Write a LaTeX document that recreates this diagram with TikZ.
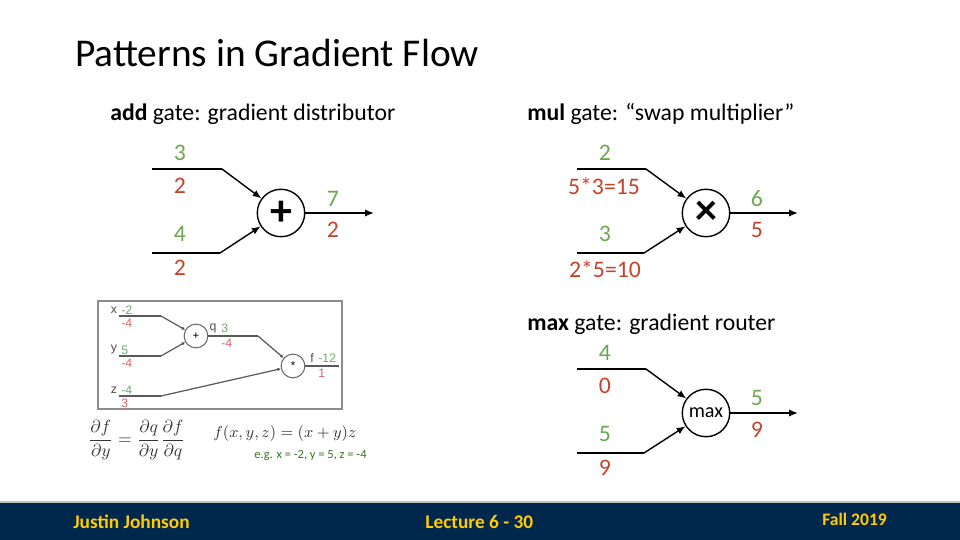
\documentclass[tikz,border=0pt]{standalone}
\usepackage[no-math]{fontspec}
\setmainfont{Carlito}
\newfontfamily\insetfont{Liberation Sans}
\usetikzlibrary{arrows.meta}

\definecolor{fwdgreen}{RGB}{106,168,79}
\definecolor{bwdred}{RGB}{197,67,42}
\definecolor{ingreen}{RGB}{110,170,110}
\definecolor{inred}{RGB}{220,100,100}
\definecolor{eggreen}{RGB}{56,118,29}
\definecolor{footblue}{RGB}{0,39,76}
\definecolor{footmaize}{RGB}{255,203,5}

\tikzset{
  gate/.style={draw, circle, line width=0.8pt, minimum size=27pt, inner sep=0pt},
  fwd/.style={text=fwdgreen, inner sep=0pt, font=\fontsize{13.5}{15}\selectfont},
  bwd/.style={text=bwdred, inner sep=0pt, font=\fontsize{13.5}{15}\selectfont},
  wire/.style={line width=0.8pt},
  flow/.style={wire, -{Latex[length=5pt,width=4pt]}},
  heading/.style={anchor=base west, inner sep=0pt, font=\fontsize{13.5}{15}\selectfont},
  igate/.style={draw=black!60, circle, line width=0.6pt, minimum size=13.5pt, inner sep=0pt, font=\insetfont\fontsize{6.5}{7}\selectfont},
  iwire/.style={draw=black!65, line width=0.7pt},
  iflow/.style={iwire, -{Latex[length=2pt,width=2pt]}},
  itext/.style={inner sep=0pt, font=\insetfont\fontsize{7}{8}\selectfont},
  foot/.style={anchor=west, inner sep=0pt, text=footmaize, font=\fontsize{11}{12}\selectfont\bfseries}
}

\begin{document}
\begin{tikzpicture}[x=0.02cm, y=-0.02cm]
\useasboundingbox (0,0) rectangle (960,540);

% Title
\node[anchor=base west, inner sep=0pt, font=\fontsize{22.4}{26}\selectfont] (title) at (75,67) {Patterns in Gradient Flow};

% Headings
\node[heading] (addhead) at (110,121) {\textbf{add} gate: gradient distributor};
\node[heading] (mulhead) at (527,121) {\textbf{mul} gate: “swap multiplier”};
\node[heading] (maxhead) at (527,331) {\textbf{max} gate: gradient router};

% add gate
\node[gate, font=\fontsize{25}{25}\selectfont\bfseries] (add) at (281,213) {+};
\coordinate (addin1) at (152,169);
\coordinate (addbend1) at (222,169);
\coordinate (addin2) at (152,253);
\coordinate (addbend2) at (220,253);
\coordinate (addout) at (374,213);
\draw[wire] (addin1) -- (addbend1);
\draw[flow] (addbend1) -- (add);
\draw[wire] (addin2) -- (addbend2);
\draw[flow] (addbend2) -- (add);
\draw[flow] (add) -- (addout);

\node[fwd] (addf1) at (180,153) {3};
\node[bwd] (addb1) at (180,186) {2};
\node[fwd] (addf2) at (180,234) {4};
\node[bwd] (addb2) at (180,268) {2};
\node[fwd] (addfo) at (333,199) {7};
\node[bwd] (addbo) at (333,230) {2};

% mul gate
\node[gate, font=\fontsize{25}{25}\selectfont\bfseries] (mul) at (706,213) {×};
\coordinate (mulin1) at (577,169);
\coordinate (mulbend1) at (646,169);
\coordinate (mulin2) at (577,253);
\coordinate (mulbend2) at (644,253);
\coordinate (mulout) at (798,213);
\draw[wire] (mulin1) -- (mulbend1);
\draw[flow] (mulbend1) -- (mul);
\draw[wire] (mulin2) -- (mulbend2);
\draw[flow] (mulbend2) -- (mul);
\draw[flow] (mul) -- (mulout);

\node[fwd] (mulf1) at (605,153) {2};
\node[bwd] (mulb1) at (604,186) {5*3=15};
\node[fwd] (mulf2) at (605,234) {3};
\node[bwd] (mulb2) at (605,269) {2*5=10};
\node[fwd] (mulfo) at (757,199) {6};
\node[bwd] (mulbo) at (757,230) {5};

% max gate
\node[gate, font=\fontsize{11.5}{12}\selectfont] (max) at (706,413) {max};
\coordinate (maxin1) at (577,369);
\coordinate (maxbend1) at (646,369);
\coordinate (maxin2) at (577,453);
\coordinate (maxbend2) at (644,453);
\coordinate (maxout) at (798,413);
\draw[wire] (maxin1) -- (maxbend1);
\draw[flow] (maxbend1) -- (max);
\draw[wire] (maxin2) -- (maxbend2);
\draw[flow] (maxbend2) -- (max);
\draw[flow] (max) -- (maxout);

\node[fwd] (maxf1) at (605,353) {4};
\node[bwd] (maxb1) at (605,386) {0};
\node[fwd] (maxf2) at (605,434) {5};
\node[bwd] (maxb2) at (605,468) {9};
\node[fwd] (maxfo) at (757,398) {5};
\node[bwd] (maxbo) at (757,430) {9};

% Example graph (inset)
\draw[black!45, line width=0.6pt] (98,301) rectangle (342,409);
\node[igate] (iadd) at (196,336) {+};
\node[igate] (iprod) at (293,366) {*};
\coordinate (ix) at (119,316);
\coordinate (ixb) at (161,316);
\coordinate (iy) at (119,356);
\coordinate (iyb) at (161,356);
\coordinate (iz) at (119,396);
\coordinate (izb) at (161,396);
\coordinate (iqb) at (258,336);
\coordinate (iout) at (339,366);
\draw[iwire] (ix) -- (ixb);
\draw[iflow] (ixb) -- (iadd);
\draw[iwire] (iy) -- (iyb);
\draw[iflow] (iyb) -- (iadd);
\draw[iwire] (iz) -- (izb);
\draw[iflow] (izb) -- (iprod);
\draw[iwire] (iadd) -- (iqb);
\draw[iflow] (iqb) -- (iprod);
\draw[iwire] (iprod) -- (iout);

\node[itext, text=black!70] (ixl) at (114,310) {x};
\node[itext, text=ingreen, anchor=west] (ixf) at (121,310) {-2};
\node[itext, text=inred, anchor=west] (ixg) at (121,323) {-4};
\node[itext, text=black!70] (iyl) at (114,350) {y};
\node[itext, text=ingreen, anchor=west] (iyf) at (121,350) {5};
\node[itext, text=inred, anchor=west] (iyg) at (121,363) {-4};
\node[itext, text=black!70] (izl) at (114,390) {z};
\node[itext, text=ingreen, anchor=west] (izf) at (121,390) {-4};
\node[itext, text=inred, anchor=west] (izg) at (121,403) {3};
\node[itext, text=black!70] (iql) at (213,328) {q};
\node[itext, text=ingreen, anchor=west] (iqf) at (221,328) {3};
\node[itext, text=inred, anchor=west] (iqg) at (221,343) {-4};
\node[itext, text=black!70] (ifl) at (312,358) {f};
\node[itext, text=ingreen, anchor=west] (iff) at (318,358) {-12};
\node[itext, text=inred, anchor=west] (ifg) at (318,373) {1};

% Chain rule and function
\node[text=black!80, anchor=west, inner sep=0pt, font=\fontsize{9.8}{12}\selectfont] (chain) at (88,440)
  {$\displaystyle\frac{\partial f}{\partial y}=\frac{\partial q}{\partial y}\frac{\partial f}{\partial q}$};
\node[text=black!80, anchor=west, inner sep=0pt, font=\fontsize{9.3}{12}\selectfont] (func) at (213,434)
  {$f(x,y,z)=(x+y)z$};
\node[text=eggreen, anchor=west, inner sep=0pt, font=\fontsize{7.1}{9}\selectfont] (eg) at (254,456)
  {e.g. x = -2, y = 5, z = -4};

% Footer
\fill[footblue] (0,502) rectangle (960,540);
\draw[black!25, line width=0.6pt] (0,502) -- (960,502);
\node[foot] (author) at (73,522) {Justin Johnson};
\node[foot] (lecture) at (425,522) {Lecture 6 - 30};
\node[foot, font=\fontsize{10}{12}\selectfont\bfseries] (term) at (822,519) {Fall 2019};

\end{tikzpicture}
\end{document}
